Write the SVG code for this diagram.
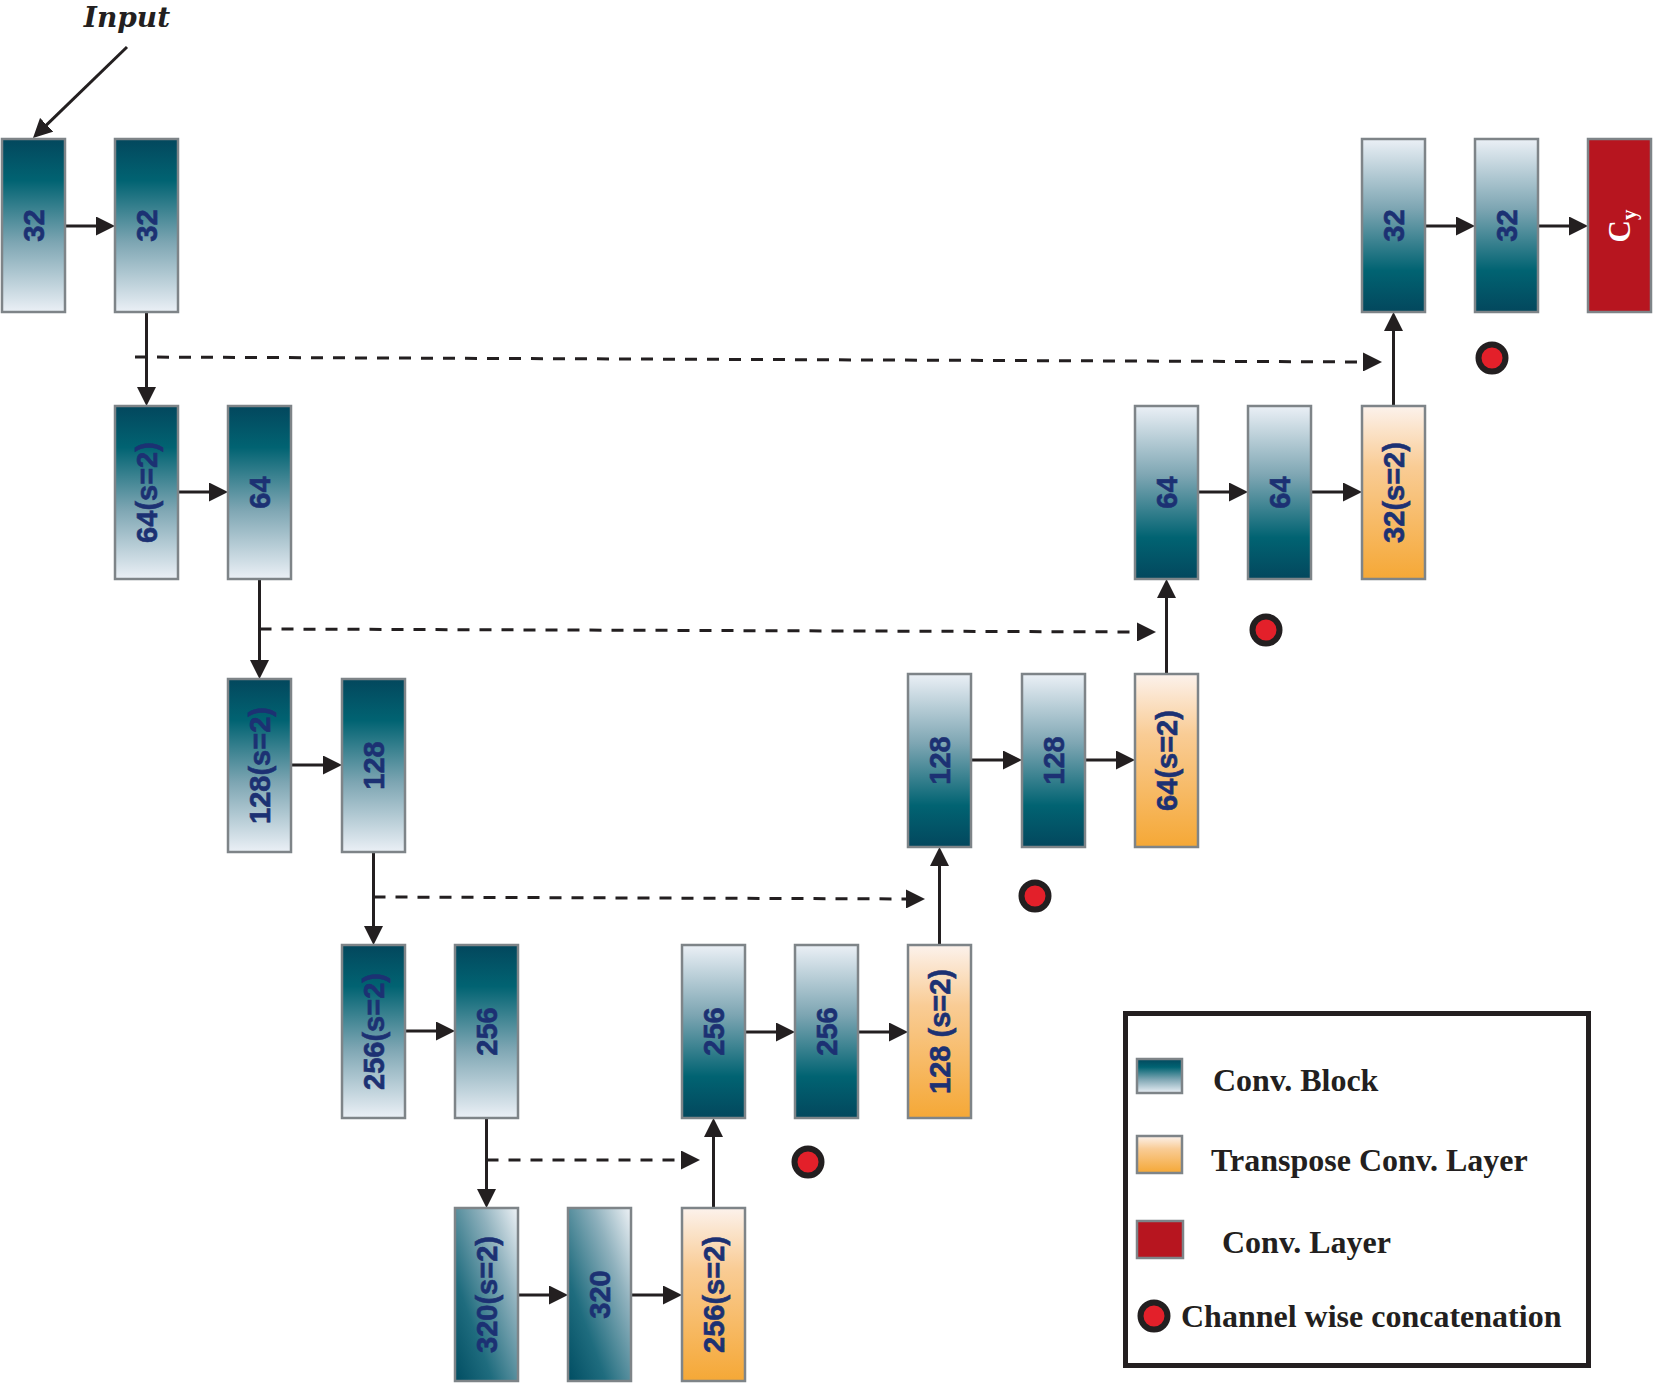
<svg xmlns="http://www.w3.org/2000/svg" width="1654" height="1383" viewBox="0 0 1654 1383">
<defs>
<linearGradient id="gEnc" x1="0" y1="0" x2="0" y2="1">
<stop offset="0" stop-color="#03475d"/><stop offset="0.24" stop-color="#016372"/><stop offset="0.6" stop-color="#7ea6b3"/><stop offset="1" stop-color="#ebf0f6"/>
</linearGradient>
<linearGradient id="gDec" x1="0" y1="1" x2="0" y2="0">
<stop offset="0" stop-color="#03475d"/><stop offset="0.24" stop-color="#016372"/><stop offset="0.6" stop-color="#7ea6b3"/><stop offset="1" stop-color="#ebf0f6"/>
</linearGradient>
<linearGradient id="gDiag" x1="0" y1="1" x2="1" y2="0">
<stop offset="0" stop-color="#004d62"/><stop offset="0.3" stop-color="#1f6c7e"/><stop offset="0.7" stop-color="#8fb1bd"/><stop offset="1" stop-color="#eef2f6"/>
</linearGradient>
<linearGradient id="gOr" x1="0" y1="0" x2="0" y2="1">
<stop offset="0" stop-color="#fcf2ec"/><stop offset="0.35" stop-color="#f9cc95"/><stop offset="1" stop-color="#f5a836"/>
</linearGradient>
<marker id="ah" markerUnits="userSpaceOnUse" markerWidth="19" markerHeight="19" viewBox="0 0 19 19" refX="13" refY="9.5" orient="auto">
<path d="M0,0 L19,9.5 L0,19 z" fill="#231f20"/>
</marker>
</defs>
<style>
.box{stroke:#7e8488;stroke-width:2.5}
.enc{fill:url(#gEnc)}
.dec{fill:url(#gDec)}
.diag{fill:url(#gDiag)}
.tr{fill:url(#gOr)}
.red{fill:#b7151f}
.lbl{font-family:"Liberation Sans",Arial,sans-serif;font-weight:bold;font-size:29px;fill:#1c3173;text-anchor:middle;dominant-baseline:central;stroke:#1c3173;stroke-width:0.6}
.ln{stroke:#231f20;stroke-width:3;fill:none;marker-end:url(#ah)}
.dash{stroke:#231f20;stroke-width:3;fill:none;stroke-dasharray:12 10;marker-end:url(#ah)}
.leg{font-family:"Liberation Serif","Times New Roman",serif;font-weight:bold;font-size:32px;fill:#231f20}
.dot{fill:#e3202a;stroke:#231f20;stroke-width:6}
</style>
<rect width="1654" height="1383" fill="#ffffff"/>

<text x="127" y="27" font-family="DejaVu Serif,serif" font-weight="bold" font-style="italic" font-size="28" fill="#231f20" text-anchor="middle">Input</text>

<g id="connectors">
<path class="ln" d="M127,47 L37.3,133.8"/>
<path class="ln" d="M65,226 L109,226"/>
<path class="ln" d="M1425,226 L1469,226"/>
<path class="ln" d="M1538,226 L1582,226"/>
<path class="ln" d="M178,492 L222,492"/>
<path class="ln" d="M1198,492 L1242,492"/>
<path class="ln" d="M1311,492 L1356,492"/>
<path class="ln" d="M291,765 L336,765"/>
<path class="ln" d="M971,760 L1016,760"/>
<path class="ln" d="M1085,760 L1129,760"/>
<path class="ln" d="M405,1031 L449,1031"/>
<path class="ln" d="M745,1032 L789,1032"/>
<path class="ln" d="M858,1032 L902,1032"/>
<path class="ln" d="M518,1295 L562,1295"/>
<path class="ln" d="M631,1295 L676,1295"/>
<path class="ln" d="M146.5,312 L146.5,400"/>
<path class="ln" d="M259.5,579 L259.5,673"/>
<path class="ln" d="M373.5,852 L373.5,939"/>
<path class="ln" d="M486.5,1118 L486.5,1202"/>
<path class="ln" d="M713.5,1208 L713.5,1124"/>
<path class="ln" d="M939.5,945 L939.5,853"/>
<path class="ln" d="M1166.5,674 L1166.5,585"/>
<path class="ln" d="M1393.5,406 L1393.5,318"/>
<path class="dash" d="M135,357 L1376,362"/>
<path class="dash" d="M259.5,629 L1150,632"/>
<path class="dash" d="M373.5,897 L919,899"/>
<path class="dash" d="M486.5,1160 L694,1160"/>
</g>

<g id="n-e1a"><rect class="box enc" x="2" y="139" width="63" height="173"/><text class="lbl" transform="translate(33.5,225.5) rotate(-90)">32</text></g>
<g id="n-e1b"><rect class="box enc" x="115" y="139" width="63" height="173"/><text class="lbl" transform="translate(146.5,225.5) rotate(-90)">32</text></g>
<g id="n-e2a"><rect class="box enc" x="115" y="406" width="63" height="173"/><text class="lbl" transform="translate(146.5,492.5) rotate(-90)">64(s=2)</text></g>
<g id="n-e2b"><rect class="box enc" x="228" y="406" width="63" height="173"/><text class="lbl" transform="translate(259.5,492.5) rotate(-90)">64</text></g>
<g id="n-e3a"><rect class="box enc" x="228" y="679" width="63" height="173"/><text class="lbl" transform="translate(259.5,765.5) rotate(-90)">128(s=2)</text></g>
<g id="n-e3b"><rect class="box enc" x="342" y="679" width="63" height="173"/><text class="lbl" transform="translate(373.5,765.5) rotate(-90)">128</text></g>
<g id="n-e4a"><rect class="box enc" x="342" y="945" width="63" height="173"/><text class="lbl" transform="translate(373.5,1031.5) rotate(-90)">256(s=2)</text></g>
<g id="n-e4b"><rect class="box enc" x="455" y="945" width="63" height="173"/><text class="lbl" transform="translate(486.5,1031.5) rotate(-90)">256</text></g>
<g id="n-b1"><rect class="box diag" x="455" y="1208" width="63" height="173"/><text class="lbl" transform="translate(486.5,1294.5) rotate(-90)">320(s=2)</text></g>
<g id="n-b2"><rect class="box diag" x="568" y="1208" width="63" height="173"/><text class="lbl" transform="translate(599.5,1294.5) rotate(-90)">320</text></g>
<g id="n-b3"><rect class="box tr" x="682" y="1208" width="63" height="173"/><text class="lbl" transform="translate(713.5,1294.5) rotate(-90)">256(s=2)</text></g>
<g id="n-d4a"><rect class="box dec" x="682" y="945" width="63" height="173"/><text class="lbl" transform="translate(713.5,1031.5) rotate(-90)">256</text></g>
<g id="n-d4b"><rect class="box dec" x="795" y="945" width="63" height="173"/><text class="lbl" transform="translate(826.5,1031.5) rotate(-90)">256</text></g>
<g id="n-d4c"><rect class="box tr" x="908" y="945" width="63" height="173"/><text class="lbl" transform="translate(939.5,1031.5) rotate(-90)">128 (s=2)</text></g>
<g id="n-d3a"><rect class="box dec" x="908" y="674" width="63" height="173"/><text class="lbl" transform="translate(939.5,760.5) rotate(-90)">128</text></g>
<g id="n-d3b"><rect class="box dec" x="1022" y="674" width="63" height="173"/><text class="lbl" transform="translate(1053.5,760.5) rotate(-90)">128</text></g>
<g id="n-d3c"><rect class="box tr" x="1135" y="674" width="63" height="173"/><text class="lbl" transform="translate(1166.5,760.5) rotate(-90)">64(s=2)</text></g>
<g id="n-d2a"><rect class="box dec" x="1135" y="406" width="63" height="173"/><text class="lbl" transform="translate(1166.5,492.5) rotate(-90)">64</text></g>
<g id="n-d2b"><rect class="box dec" x="1248" y="406" width="63" height="173"/><text class="lbl" transform="translate(1279.5,492.5) rotate(-90)">64</text></g>
<g id="n-d2c"><rect class="box tr" x="1362" y="406" width="63" height="173"/><text class="lbl" transform="translate(1393.5,492.5) rotate(-90)">32(s=2)</text></g>
<g id="n-d1a"><rect class="box dec" x="1362" y="139" width="63" height="173"/><text class="lbl" transform="translate(1393.5,225.5) rotate(-90)">32</text></g>
<g id="n-d1b"><rect class="box dec" x="1475" y="139" width="63" height="173"/><text class="lbl" transform="translate(1506.5,225.5) rotate(-90)">32</text></g>
<g id="n-out"><rect class="box red" x="1588" y="139" width="63" height="173"/><text transform="translate(1630,226) rotate(-90)" font-family="Liberation Serif,serif" font-weight="bold" font-size="31" fill="#ffffff" text-anchor="middle">C<tspan font-size="21" dy="6">y</tspan></text></g>

<g id="concat-dots">
<circle class="dot" cx="1492" cy="358" r="13.5"/>
<circle class="dot" cx="1266" cy="630" r="13.5"/>
<circle class="dot" cx="1035" cy="896" r="13.5"/>
<circle class="dot" cx="808" cy="1162" r="13.5"/>
</g>

<g id="legend">
<rect x="1125.5" y="1013.5" width="463" height="352" fill="none" stroke="#231f20" stroke-width="5"/>
<rect class="box enc" x="1137" y="1059" width="45" height="34"/>
<text class="leg" x="1213" y="1091">Conv. Block</text>
<rect class="box tr" x="1137" y="1136" width="45" height="37"/>
<text class="leg" x="1211" y="1171">Transpose Conv. Layer</text>
<rect class="box red" x="1137" y="1221" width="46" height="37"/>
<text class="leg" x="1222" y="1253">Conv. Layer</text>
<circle class="dot" cx="1154" cy="1316" r="13.5"/>
<text class="leg" x="1181" y="1327">Channel wise concatenation</text>
</g>
</svg>
